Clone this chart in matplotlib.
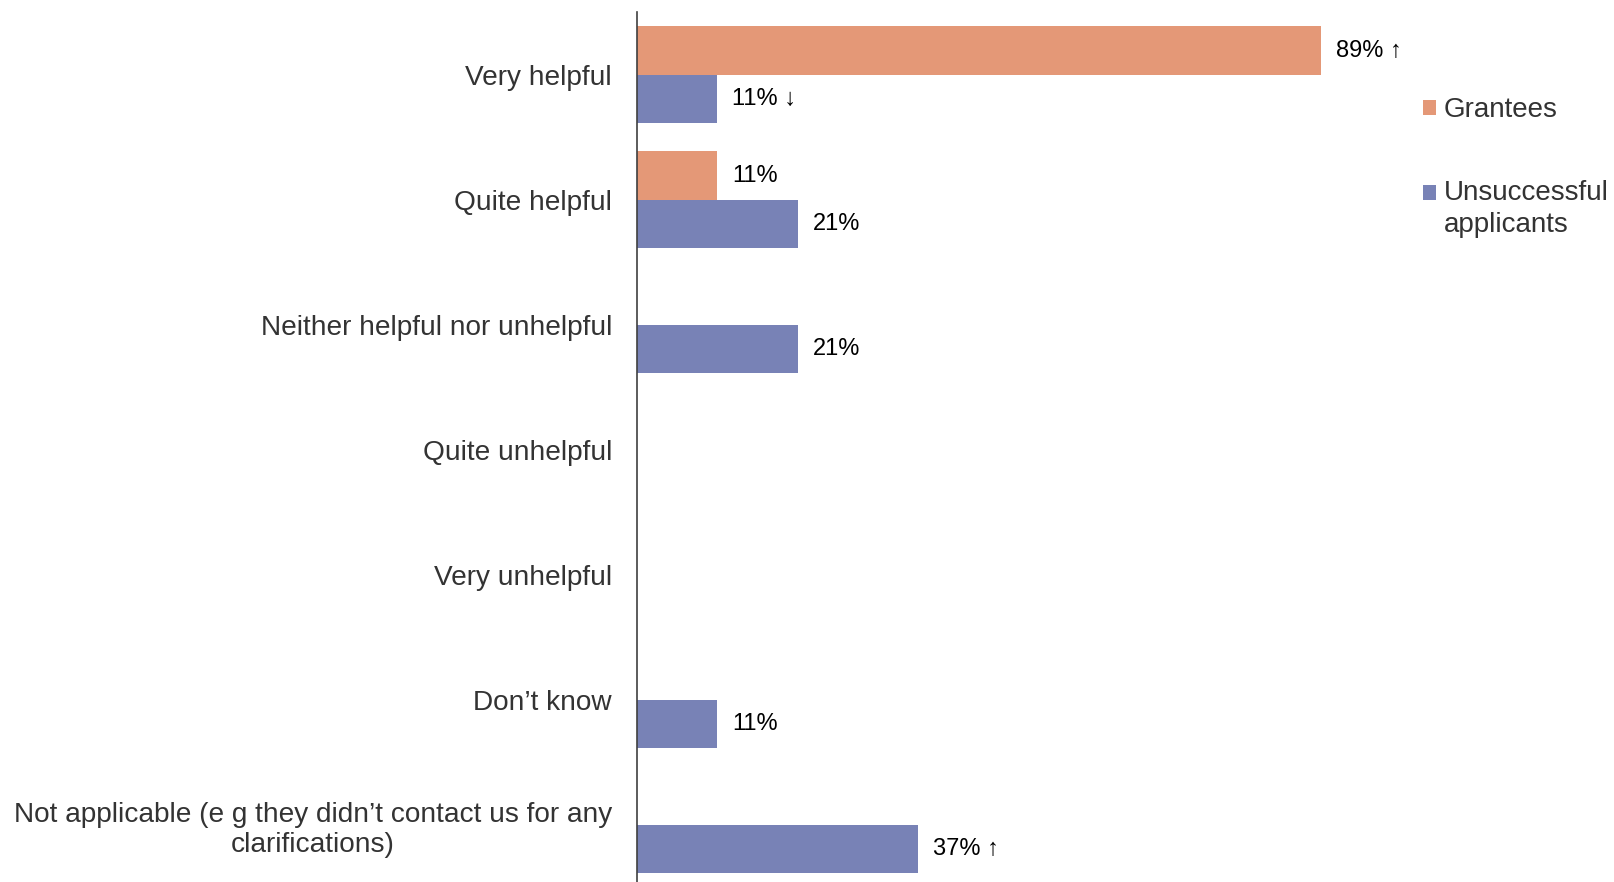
import numpy as np
import matplotlib.pyplot as plt

plt.rcParams['font.family'] = ['Liberation Sans', 'DejaVu Sans']

categories = ["Very helpful", "Quite helpful", "Neither helpful nor unhelpful",
              "Quite unhelpful", "Very unhelpful", "Don\u2019t know",
              "Not applicable (e g they didn\u2019t contact us for any\nclarifications)"]
grantees = [89.5, 10.5, 0, 0, 0, 0, 0]
unsuccessful = [10.5, 21.1, 21.1, 0, 0, 10.5, 36.8]
grantees_lbl = ["89% \u2191", "11%", "", "", "", "", ""]
unsuccessful_lbl = ["11% \u2193", "21%", "21%", "", "", "11%", "37% \u2191"]

c_grant = "#E49877"
c_unsuc = "#7882B6"

fig = plt.figure(figsize=(16.15, 8.82), dpi=100)
ax = fig.add_axes([0.3944, -0.0057, 0.473, 0.992])

y = np.arange(len(categories))
h = 0.385
b1 = ax.barh(y - h/2, grantees, height=h, color=c_grant, label="Grantees")
b2 = ax.barh(y + h/2, unsuccessful, height=h, color=c_unsuc, label="Unsuccessful\napplicants")

for bars, lbls in [(b1, grantees_lbl), (b2, unsuccessful_lbl)]:
    for bar, t in zip(bars, lbls):
        if t:
            ax.annotate(t, (bar.get_width(), bar.get_y() + bar.get_height()/2),
                        xytext=(10.8, 0), textcoords="offset points",
                        va="center", ha="left", fontsize=17, color="black")

ax.set_xlim(0, 100)
ax.set_ylim(6.5, -0.5)
ax.set_yticks(y)
ax.set_yticklabels(categories, fontsize=20.2, color="#333333")
for t in ax.get_yticklabels():
    t.set_multialignment("center")
    t.set_linespacing(1.2)
ax.tick_params(axis="y", length=0, pad=18)
ax.set_xticks([])
for s in ["top", "right", "bottom"]:
    ax.spines[s].set_visible(False)
ax.spines["left"].set_color("#404040")
ax.spines["left"].set_linewidth(1.2)

leg = ax.legend(loc="upper left", bbox_to_anchor=(1412/1615, 1 - 86/882),
                bbox_transform=fig.transFigure, frameon=False, fontsize=20,
                handlelength=0.48, handleheight=0.48, handletextpad=0.25,
                labelspacing=2.05, borderaxespad=0)
for t in leg.get_texts():
    t.set_color("#333333")
    t.set_linespacing(1.3)
# square next to the first line of the two-line label
hd = leg.legend_handles[1]
hd.set_y(hd.get_y() + 12)

fig.savefig("out.png", dpi=100)
